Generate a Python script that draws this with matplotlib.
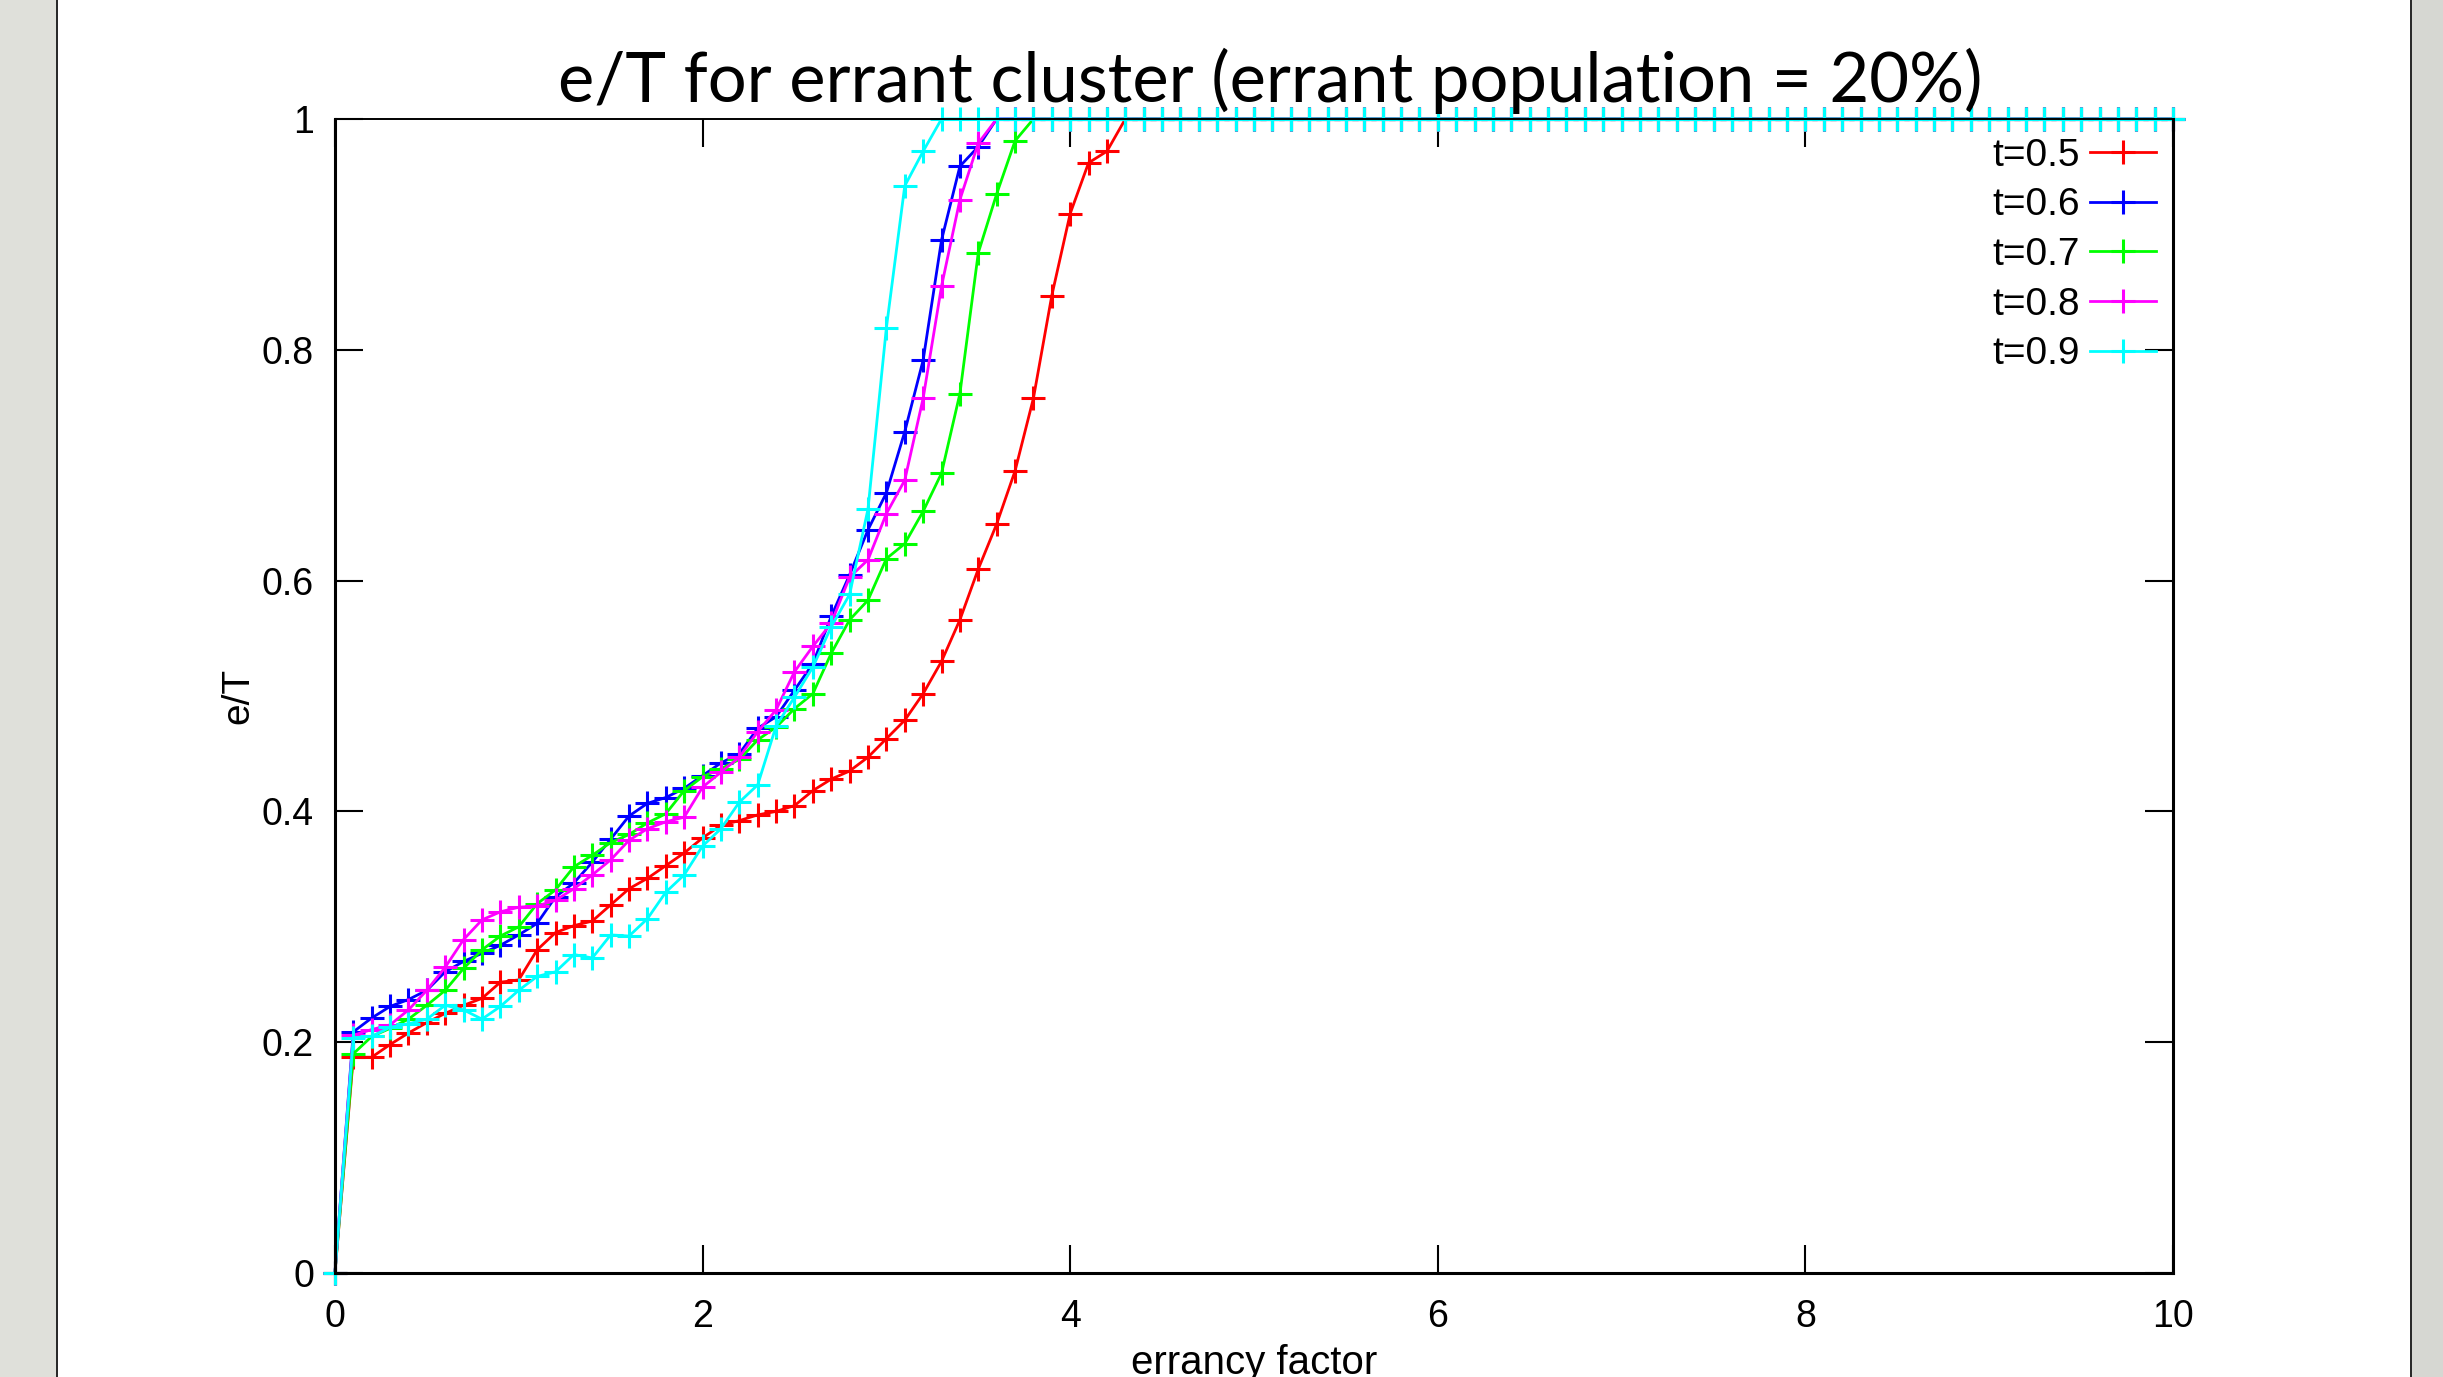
import numpy as np
import matplotlib
matplotlib.use('Agg')
import matplotlib.pyplot as plt
from matplotlib.patches import Rectangle
from matplotlib.lines import Line2D

# errancy factor grid (0 .. 10 step 0.1)
x = np.round(np.arange(0, 101) * 0.1, 1)

# e/T values, until each curve reaches 1
t05 = [0, 0.187, 0.187, 0.198, 0.208, 0.217, 0.225, 0.232, 0.238, 0.252, 0.254,
       0.280, 0.295, 0.301, 0.305, 0.319, 0.333, 0.342, 0.353, 0.364, 0.377,
       0.388, 0.392, 0.397, 0.400, 0.405, 0.418, 0.428, 0.435, 0.447, 0.463,
       0.479, 0.502, 0.530, 0.566, 0.610, 0.649, 0.695, 0.758, 0.847, 0.918,
       0.962, 0.972, 1.0]
t06 = [0, 0.209, 0.221, 0.231, 0.237, 0.245, 0.261, 0.270, 0.277, 0.284, 0.293,
       0.303, 0.326, 0.338, 0.356, 0.376, 0.396, 0.407, 0.412, 0.420, 0.431,
       0.442, 0.450, 0.472, 0.482, 0.505, 0.528, 0.569, 0.605, 0.644, 0.676,
       0.729, 0.791, 0.895, 0.959, 0.976, 1.0]
t07 = [0, 0.190, 0.205, 0.212, 0.220, 0.232, 0.245, 0.264, 0.280, 0.292, 0.300,
       0.320, 0.332, 0.352, 0.362, 0.373, 0.380, 0.390, 0.398, 0.418, 0.430,
       0.437, 0.445, 0.462, 0.473, 0.489, 0.502, 0.537, 0.566, 0.583, 0.619,
       0.632, 0.660, 0.693, 0.762, 0.884, 0.935, 0.981, 1.0]
t08 = [0, 0.206, 0.211, 0.215, 0.228, 0.245, 0.265, 0.289, 0.306, 0.313, 0.317,
       0.318, 0.323, 0.333, 0.345, 0.358, 0.375, 0.385, 0.391, 0.395, 0.421,
       0.434, 0.447, 0.469, 0.488, 0.521, 0.543, 0.563, 0.603, 0.618, 0.658,
       0.687, 0.758, 0.855, 0.930, 0.979, 1.0]
t09 = [0, 0.204, 0.205, 0.213, 0.216, 0.220, 0.232, 0.228, 0.220, 0.231, 0.245,
       0.257, 0.261, 0.276, 0.273, 0.293, 0.292, 0.307, 0.330, 0.345, 0.370,
       0.385, 0.408, 0.423, 0.474, 0.499, 0.525, 0.560, 0.588, 0.662, 0.819,
       0.942, 0.972, 1.0]

labels = ['t=0.5', 't=0.6', 't=0.7', 't=0.8', 't=0.9']
colors = ['#ff0000', '#0000ff', '#00ff00', '#ff00ff', '#00ffff']
series = [t05, t06, t07, t08, t09]

xticks = [0, 2, 4, 6, 8, 10]
yticks = [0, 0.2, 0.4, 0.6, 0.8, 1]
ytick_labels = ['0', '0.2', '0.4', '0.6', '0.8', '1']

plt.rcParams['font.family'] = ['Liberation Sans', 'DejaVu Sans']

fig = plt.figure(figsize=(24.43, 13.77), dpi=100)
fig.patch.set_facecolor('white')

# slide background strips on both sides
fig.patches.append(Rectangle((0, 0), 0.0228, 1, transform=fig.transFigure,
                             facecolor='#dfe0da', edgecolor='none', zorder=0))
fig.patches.append(Rectangle((0.0228, 0), 0.0010, 1, transform=fig.transFigure,
                             facecolor='#2a2a2a', edgecolor='none', zorder=0))
fig.patches.append(Rectangle((0.9873, 0), 0.0127, 1, transform=fig.transFigure,
                             facecolor='#d6d7d2', edgecolor='none', zorder=0))
fig.patches.append(Rectangle((0.9865, 0), 0.0010, 1, transform=fig.transFigure,
                             facecolor='#2a2a2a', edgecolor='none', zorder=0))

ax = fig.add_axes([0.1371, 0.0755, 0.7524, 0.8381])

for ys, lab, c in zip(series, labels, colors):
    y = np.array(ys + [1.0] * (len(x) - len(ys)))
    ax.plot(x, y, color=c, lw=2.0, marker='+', markersize=17, mew=2.2,
            label=lab, clip_on=False)

ax.set_xlim(0, 10)
ax.set_ylim(0, 1)
ax.set_xticks(xticks)
ax.set_xticklabels([str(v) for v in xticks])
ax.set_yticks(yticks)
ax.set_yticklabels(ytick_labels)
ax.tick_params(direction='in', length=20, width=1.5, labelsize=27,
               top=True, right=True)
ax.tick_params(axis='x', pad=19)
ax.tick_params(axis='y', pad=15)

for side in ['left', 'bottom', 'right']:
    ax.spines[side].set_linewidth(2.2)
ax.spines['top'].set_linewidth(1.4)

ax.set_xlabel('errancy factor', fontsize=29, labelpad=6)
ax.set_ylabel('e/T', fontsize=28, labelpad=4)

handles = [Line2D([], [], color=c, lw=2.0, marker='+', markersize=17, mew=2.2)
           for c in colors]
ax.legend(handles, labels, loc='upper right', bbox_to_anchor=(1.0035, 1.004),
          frameon=False, markerfirst=False, fontsize=28, handlelength=1.7,
          handletextpad=0.25, labelspacing=0.35, borderaxespad=0.2)

fig.text(0.520, 0.941, 'e/T for errant cluster (errant population = 20%)',
         ha='center', va='center', fontsize=49.5, family='Lato')

fig.savefig('out.png', dpi=100)
